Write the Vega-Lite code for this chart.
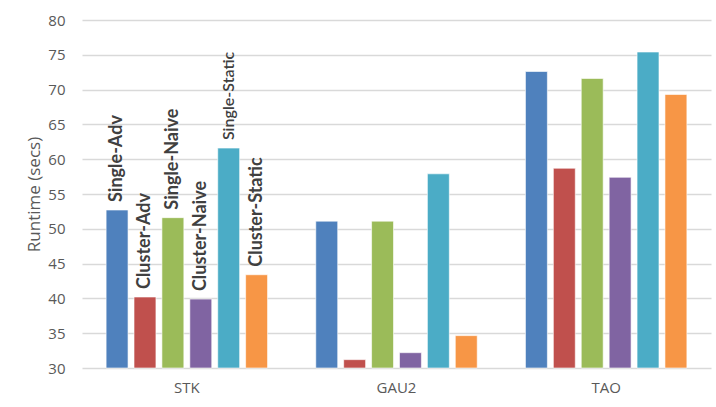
{
  "$schema": "https://vega.github.io/schema/vega-lite/v6.json",
  "width": 629,
  "height": 348,
  "autosize": "none",
  "padding": {"left": 82, "top": 20, "right": 5, "bottom": 39},
  "background": "white",
  "config": {
    "view": {"stroke": null},
    "font": "Open Sans",
    "axis": {"labelFont": "Open Sans", "titleFont": "Open Sans"}
  },
  "data": {
    "values": [
      {"group": "STK", "series": "Single-Adv", "value": 52.7},
      {"group": "STK", "series": "Cluster-Adv", "value": 40.2},
      {"group": "STK", "series": "Single-Naive", "value": 51.6},
      {"group": "STK", "series": "Cluster-Naive", "value": 39.9},
      {"group": "STK", "series": "Single-Static", "value": 61.6},
      {"group": "STK", "series": "Cluster-Static", "value": 43.4},
      {"group": "GAU2", "series": "Single-Adv", "value": 51.1},
      {"group": "GAU2", "series": "Cluster-Adv", "value": 31.2},
      {"group": "GAU2", "series": "Single-Naive", "value": 51.1},
      {"group": "GAU2", "series": "Cluster-Naive", "value": 32.2},
      {"group": "GAU2", "series": "Single-Static", "value": 57.9},
      {"group": "GAU2", "series": "Cluster-Static", "value": 34.65},
      {"group": "TAO", "series": "Single-Adv", "value": 72.6},
      {"group": "TAO", "series": "Cluster-Adv", "value": 58.7},
      {"group": "TAO", "series": "Single-Naive", "value": 71.6},
      {"group": "TAO", "series": "Cluster-Naive", "value": 57.4},
      {"group": "TAO", "series": "Single-Static", "value": 75.4},
      {"group": "TAO", "series": "Cluster-Static", "value": 69.3}
    ]
  },
  "encoding": {
    "x": {
      "field": "group", "type": "nominal", "sort": ["STK", "GAU2", "TAO"],
      "scale": {"paddingInner": 0.23, "paddingOuter": 0.115},
      "axis": {"title": null, "labelAngle": 0, "labelFontSize": 15, "labelColor": "#595959", "labelPadding": 12, "ticks": false, "domain": false}
    },
    "xOffset": {
      "field": "series", "type": "nominal",
      "sort": ["Single-Adv", "Cluster-Adv", "Single-Naive", "Cluster-Naive", "Single-Static", "Cluster-Static"],
      "scale": {"paddingInner": 0.214, "paddingOuter": 0}
    },
    "y": {
      "field": "value", "type": "quantitative",
      "scale": {"domain": [30, 80], "zero": false, "nice": false},
      "axis": {"title": "Runtime (secs)", "titleFontSize": 17, "titleFontWeight": "normal", "titleColor": "#595959", "titlePadding": 4,
               "values": [30, 35, 40, 45, 50, 55, 60, 65, 70, 75, 80],
               "labelFontSize": 15, "labelColor": "#595959", "labelPadding": 17, "ticks": false, "domain": false,
               "gridColor": "#d9d9d9", "gridWidth": 1.3}
    }
  },
  "layer": [
    {
      "mark": {"type": "bar", "stroke": "white", "strokeOpacity": 0.6, "strokeWidth": 1},
      "encoding": {
        "y2": {"datum": 30},
        "color": {
          "field": "series", "type": "nominal",
          "sort": ["Single-Adv", "Cluster-Adv", "Single-Naive", "Cluster-Naive", "Single-Static", "Cluster-Static"],
          "scale": {"domain": ["Single-Adv", "Cluster-Adv", "Single-Naive", "Cluster-Naive", "Single-Static", "Cluster-Static"],
                    "range": ["#4F81BD", "#C0504D", "#9BBB59", "#8064A2", "#4BACC6", "#F79646"]},
          "legend": null
        }
      }
    },
    {
      "transform": [{"filter": "datum.group == 'STK' && datum.series != 'Single-Static'"}],
      "mark": {"type": "text", "font": "Lato", "angle": 270, "align": "left", "baseline": "middle", "dx": 8, "fontSize": 18, "fontWeight": "bold", "color": "#404040"},
      "encoding": {"text": {"field": "series"}}
    },
    {
      "transform": [{"filter": "datum.group == 'STK' && datum.series == 'Single-Static'"}],
      "mark": {"type": "text", "font": "Lato", "angle": 270, "align": "left", "baseline": "middle", "dx": 8, "fontSize": 16, "fontWeight": 600, "color": "#404040"},
      "encoding": {"text": {"field": "series"}}
    }
  ]
}
